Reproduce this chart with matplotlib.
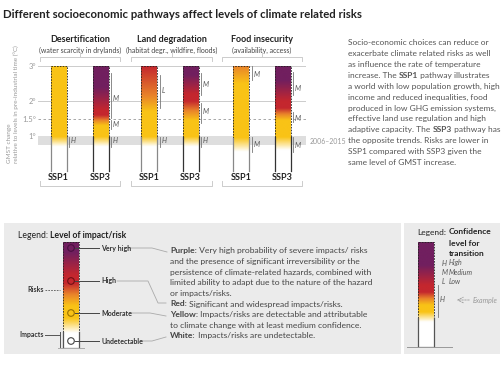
import numpy as np
import matplotlib.pyplot as plt
from matplotlib.colors import LinearSegmentedColormap
from matplotlib.patches import Rectangle, Circle

plt.rcParams['font.family'] = ['Lato', 'DejaVu Sans']

W, H = 504, 366

# ---- data ----
groups = ['Desertification', 'Land degradation', 'Food insecurity']
subtitles = ['(water scarcity in drylands)', '(habitat degr., wildfire, floods)',
             '(availability, access)']
pathways = ['SSP1', 'SSP3']
gmst_ticks = [1, 1.5, 2, 3]
tick_labels = ['1°', '1.5°', '2°', '3°']
band = (0.74, 1.0)   # 2006-2015

# risk level along GMST for each bar (0 undetectable, 1 moderate, 2 high, 3 very high)
risk_gmst = [
    [0.7, 0.98, 3.0],
    [0.7, 0.98, 1.3, 1.6, 1.75, 2.4, 3.0],
    [0.7, 0.98, 1.7, 2.15, 3.0],
    [0.7, 0.98, 1.45, 2.0, 2.2, 2.75, 3.0],
    [0.55, 0.95, 2.5, 3.0],
    [0.6, 0.97, 1.45, 1.8, 2.0, 2.6, 3.0],
]
risk_level = [
    [0, 1, 1],
    [0, 1, 1, 2, 2, 3, 3],
    [0, 1, 1, 1.5, 2],
    [0, 1, 1, 2, 2, 3, 3],
    [0, 1, 1, 1.5],
    [0, 1, 1, 2, 2, 3, 3],
]
# confidence in transitions: (low, high, label position, letter)
conf = [
    [(0.69, 0.97, 0.86, 'H')],
    [(1.51, 2.8, 2.06, 'M'), (1.2, 1.46, 1.34, 'M'), (0.69, 0.97, 0.86, 'H')],
    [(1.8, 2.74, 2.31, 'L'), (0.69, 0.97, 0.86, 'H')],
    [(2.17, 2.8, 2.46, 'M'), (1.37, 1.94, 1.69, 'M'), (0.69, 0.97, 0.86, 'H')],
    [(2.6, 3.0, 2.77, 'M'), (0.54, 0.97, 0.77, 'M')],
    [(2.17, 2.83, 2.37, 'M'), (1.4, 1.69, 1.51, 'M'), (0.54, 0.97, 0.74, 'M')],
]

legend_levels = ['Very high', 'High', 'Moderate', 'Undetectable']
legend_desc = [
    [('Purple:', True), (' Very high probability of severe impacts/ risks', False)],
    [('and the presence of significant irreversibility or the', False)],
    [('persistence of climate-related hazards, combined with', False)],
    [('limited ability to adapt due to the nature of the hazard', False)],
    [('or impacts/risks.', False)],
    [('Red:', True), (' Significant and widespread impacts/risks.', False)],
    [('Yellow:', True), (' Impacts/risks are detectable and attributable', False)],
    [('to climate change with at least medium confidence.', False)],
    [('White:', True), (' Impacts/risks are undetectable.', False)],
]
paragraph = [
    [('Socio-economic choices can reduce or', False)],
    [('exacerbate climate related risks as well', False)],
    [('as influence the rate of temperature', False)],
    [('increase. The ', False), ('SSP1', True), (' pathway illustrates', False)],
    [('a world with low population growth, high', False)],
    [('income and reduced inequalities, food', False)],
    [('produced in low GHG emission systems,', False)],
    [('effective land use regulation and high', False)],
    [('adaptive capacity. The ', False), ('SSP3', True), (' pathway has', False)],
    [('the opposite trends. Risks are lower in', False)],
    [('SSP1 compared with SSP3 given the', False)],
    [('same level of GMST increase.', False)],
]
conf_keys = [('H', 'High'), ('M', 'Medium'), ('L', 'Low')]

cmap = LinearSegmentedColormap.from_list(
    'risk', [(0, '#ffffff'), (1 / 3, '#f9c316'), (0.5, '#e9842a'),
             (2 / 3, '#c4272e'), (1, '#711f5f')])

fig = plt.figure(figsize=(W / 100, H / 100), dpi=100)

# overlay in pixel units for text and legend panels
lay = fig.add_axes([0, 0, 1, 1])
lay.set_xlim(0, W)
lay.set_ylim(H, 0)
lay.axis('off')
lay.patch.set_visible(False)


def rich(x, y, parts, size, color, **kw):
    t = lay.text(x, y, parts[0][0], fontsize=size, color=color, va='center',
                 fontweight='bold' if parts[0][1] else 'normal', **kw)
    for txt, b in parts[1:]:
        t = lay.annotate(txt, xy=(1, 0), xycoords=t, va='bottom', ha='left',
                         fontsize=size, color=color,
                         fontweight='bold' if b else 'normal', **kw)


# title
lay.text(3, 15, 'Different socioeconomic pathways affect levels of climate related risks',
         fontsize=8.2, fontweight='bold', color='#222', va='center')

# ---- main chart ----
x_left, x_right, y_top, y_bot = 38, 306, 66, 171
ax = fig.add_axes([x_left / W, 1 - y_bot / H, (x_right - x_left) / W, (y_bot - y_top) / H])
ax.patch.set_visible(False)
for s in ax.spines.values():
    s.set_visible(False)

ax.axhspan(*band, color='#dedede', lw=0, zorder=1)
ax.axhline(3, color='#cccccc', lw=0.7, zorder=1)
ax.axhline(2, color='#cccccc', lw=0.7, zorder=1)
ax.axhline(1.5, color='#999999', lw=0.6, ls=(0, (3, 3)), zorder=1)

bar_w = 16
centers = [58.5, 100.5, 149, 190.5, 241, 282.5]
yy = np.linspace(0, 3, 400)
for i, xc in enumerate(centers):
    x0, x1 = xc - bar_w / 2, xc + bar_w / 2
    lv = np.interp(yy, risk_gmst[i], risk_level[i], left=0)
    ax.imshow(lv[:, None], extent=(x0, x1, 0, 3), origin='lower', aspect='auto',
              cmap=cmap, vmin=0, vmax=3, interpolation='bilinear', zorder=3)
    yb = risk_gmst[i][1]
    ax.plot([x0, x0, x1, x1], [yb, 3, 3, yb], color='#222', lw=0.6,
            ls=(0, (2, 1.4)), zorder=4, clip_on=False)
    ec = '#888888' if i % 2 == 0 else '#333333'
    ax.plot([x0, x0], [0, yb], color=ec, lw=0.9, zorder=4, clip_on=False)
    ax.plot([x1, x1], [0, yb], color=ec, lw=0.9, zorder=4, clip_on=False)
    for lo, hi, ly, letter in conf[i]:
        ax.plot([x1 + 2.5, x1 + 2.5], [lo, hi], color='#777', lw=0.6, zorder=4, clip_on=False)
        ax.text(x1 + 4.5, ly, letter, fontsize=5, style='italic', color='#555',
                va='center', ha='left', zorder=5)
    lay.text(xc, 178, pathways[i % 2], fontsize=6.5, fontweight='bold', color='#222',
             ha='center', va='center')

ax.set_xlim(x_left, x_right)
ax.set_ylim(0, 3)
ax.set_xticks([])
ax.set_yticks(gmst_ticks, tick_labels)
ax.tick_params(axis='y', length=0, pad=1.5, labelsize=5.5, labelcolor='#999999')

lay.text(310, 141, '2006–2015', fontsize=5, color='#999', va='center')
lay.text(13, 163, 'GMST change\nrelative to levels in pre-industrial time (°C)',
         rotation=90, ha='center', va='bottom', fontsize=4.6, color='#999',
         multialignment='left', linespacing=1.1)

brackets = [(40, 120), (131, 212), (222, 302)]
for (a, b), g, st in zip(brackets, groups, subtitles):
    m = (a + b) / 2
    lay.plot([a, a, b, b], [61, 57, 57, 61], color='#cccccc', lw=0.7)
    lay.plot([m, m], [57, 53], color='#cccccc', lw=0.7)
    lay.plot([a, a, b, b], [181, 186, 186, 181], color='#cccccc', lw=0.7)
    lay.text(m, 40, g, fontsize=6.5, fontweight='bold', color='#222', ha='center', va='center')
    lay.text(m, 50, st, fontsize=5, color='#444', ha='center', va='center')

for k, parts in enumerate(paragraph):
    rich(348, 42.7 + 10.9 * k, parts, 6.0, '#555')

# ---- legend: level of impact/risk ----
lay.add_patch(Rectangle((4, 223), 397, 131, fc='#ebebeb', lw=0, zorder=0))
lay.add_patch(Rectangle((404, 223), 96, 131, fc='#ebebeb', lw=0, zorder=0))

rich(18, 235, [('Legend: ', False), ('Level of impact/risk', True)], 6.2, '#222')


def legend_bar(x0, x1, top, bot, pos, lev, dash_bot):
    py = np.linspace(bot, top, 300)
    lv = np.interp(py, pos[::-1], lev[::-1])
    lay.imshow(lv[:, None], extent=(x0, x1, bot, top), origin='lower', aspect='auto',
               cmap=cmap, vmin=0, vmax=3, interpolation='bilinear', zorder=2)
    lay.plot([x0, x0, x1, x1], [dash_bot, top, top, dash_bot], color='#222', lw=0.6,
             ls=(0, (2, 1.4)), zorder=3)
    lay.plot([x0, x0], [dash_bot, bot], color='#555', lw=0.9, zorder=3)
    lay.plot([x1, x1], [dash_bot, bot], color='#555', lw=0.9, zorder=3)


legend_bar(63, 79, 242, 347, [333, 318, 306, 283, 275, 252], [0, 1, 1, 2, 2, 3], 332)
lay.plot([58, 84], [348, 348], color='#aaaaaa', lw=0.7)

circle_y = [248, 281, 313, 341]
circle_ec = ['#4a0f40', '#6e0f14', '#9a7000', '#444444']
for y, lab, ec in zip(circle_y, legend_levels, circle_ec):
    lay.add_patch(Circle((71, y), 3.3, fill=False, ec=ec, lw=0.8, zorder=4))
    lay.plot([74.5, 99], [y, y], color='#444', lw=0.7, zorder=3)
    lay.text(101, y, lab, fontsize=5, fontweight='bold', color='#333', va='center')

connectors = [
    ([128, 152, 167], [248, 248, 252]),
    ([117, 148, 158, 166], [281, 281, 303, 303]),
    ([130, 150, 166], [313, 313, 316]),
    ([141, 152, 166], [341, 341, 337]),
]
for cx, cy in connectors:
    lay.plot(cx, cy, color='#aaaaaa', lw=0.6)

lay.text(27, 290, 'Risks', fontsize=5, fontweight='bold', color='#333', va='center')
lay.plot([45, 60], [290, 290], color='#555', lw=0.6, ls=(0, (2, 1.4)))
lay.text(19, 335, 'Impacts', fontsize=5, fontweight='bold', color='#333', va='center')
lay.plot([45, 60], [335, 335], color='#555', lw=0.7)
lay.plot([60, 60], [332, 347], color='#555', lw=0.7)

for k, parts in enumerate(legend_desc):
    rich(170, 251 + 10.6 * k, parts, 6.1, '#444')

# ---- legend: confidence ----
lay.text(417, 232, 'Legend:', fontsize=6.0, color='#222', va='center')
for k, s in enumerate(['Confidence', 'level for', 'transition']):
    lay.text(449, 232 + 11 * k, s, fontsize=6.0, fontweight='bold', color='#222', va='center')
for k, (letter, word) in enumerate(conf_keys):
    lay.text(442, 263 + 9.5 * k, letter, fontsize=5, style='italic', color='#555', va='center')
    lay.text(449, 263 + 9.5 * k, word, fontsize=5, style='italic', color='#555', va='center')

legend_bar(418, 434, 242, 346, [322, 312, 305, 292, 285, 265], [0, 1, 1, 2, 2, 3], 318)
lay.plot([407, 452], [347, 347], color='#999999', lw=0.7)
lay.plot([437.5, 437.5], [285, 317], color='#777', lw=0.6)
lay.text(440, 300, 'H', fontsize=5, style='italic', color='#555', va='center')
lay.annotate('', xy=(454, 300), xytext=(472, 300),
             arrowprops=dict(arrowstyle='->', color='#999', lw=0.6, ls=(0, (2, 1.5))))
lay.text(473, 300, 'Example', fontsize=5, style='italic', color='#999', va='center')

fig.savefig('out.png', dpi=100)
